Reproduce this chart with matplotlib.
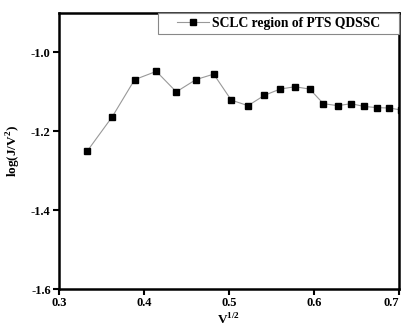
import matplotlib
matplotlib.use("Agg")
import matplotlib.pyplot as plt
from matplotlib.patches import Rectangle

x_vals = [0.3333, 0.3627, 0.389, 0.4145, 0.438, 0.461, 0.482, 0.5027, 0.5224, 0.5415,
          0.560, 0.5776, 0.595, 0.611, 0.628, 0.6435, 0.659, 0.674, 0.6886, 0.7025]
y_vals = [-1.250, -1.163, -1.069, -1.048, -1.100, -1.069, -1.055, -1.121, -1.135, -1.109,
          -1.093, -1.087, -1.093, -1.130, -1.135, -1.130, -1.137, -1.140, -1.141, -1.146]
series_label = "SCLC region of PTS QDSSC"
x_ticks = [0.3, 0.4, 0.5, 0.6, 0.7]
y_ticks = [-1.6, -1.4, -1.2, -1.0]

plt.rcParams['font.family'] = ['Liberation Serif', 'DejaVu Serif']
plt.rcParams['font.weight'] = 'bold'
plt.rcParams['mathtext.fontset'] = 'custom'
plt.rcParams['mathtext.rm'] = 'Liberation Serif:bold'
plt.rcParams['mathtext.bf'] = 'Liberation Serif:bold'

fig = plt.figure(figsize=(4.04, 3.29), dpi=100)
ax = fig.add_axes([59/404, 1-289/329, 340/404, 276/329])

ax.plot(x_vals, y_vals, color='#999999', linewidth=0.8, marker='s', markersize=4,
        markerfacecolor='black', markeredgecolor='black', label=series_label)

ax.set_xlim(0.3, 0.7)
ax.set_ylim(-1.6, -0.9)
ax.set_xticks(x_ticks)
ax.set_xticklabels([f"{t:.1f}" for t in x_ticks])
ax.set_yticks(y_ticks)
ax.set_yticklabels([f"{t:.1f}" for t in y_ticks])
ax.tick_params(direction='out', length=4, width=1.5, labelsize=9, pad=2)
for lab in ax.get_xticklabels() + ax.get_yticklabels():
    lab.set_fontweight('bold')
ax.get_xticklabels()[-1].set_horizontalalignment('right')
for s in ax.spines.values():
    s.set_linewidth(1.8)

ax.set_xlabel(r"V$^{\mathrm{1/2}}$", fontsize=9.5, fontweight='bold', labelpad=2)
ax.set_ylabel(r"log(J/V$^{\mathrm{2}}$)", fontsize=9.5, fontweight='bold', labelpad=6)

# legend frame
x0 = (158 - 59) / 340
y0 = (289 - 34) / 276
ax.add_patch(Rectangle((x0, y0), 1 - x0, 1 - y0, transform=ax.transAxes,
                       facecolor='white', edgecolor='#888888', linewidth=0.8,
                       zorder=5, clip_on=False))
leg = ax.legend(loc='center', bbox_to_anchor=(x0, y0, 1 - x0, 1 - y0), fontsize=9.8,
                frameon=False, handlelength=2.35, handletextpad=0.2, borderpad=0,
                borderaxespad=0)
leg.set_zorder(6)
for t in leg.get_texts():
    t.set_fontweight('bold')

fig.savefig("out.png", dpi=100)
